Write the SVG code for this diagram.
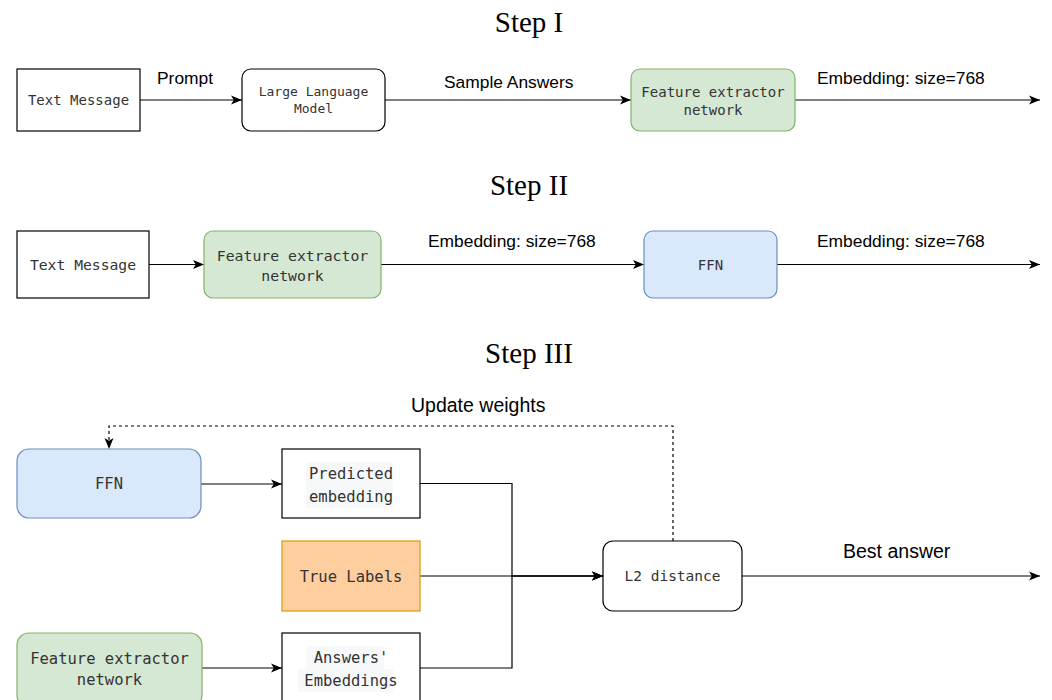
<svg xmlns="http://www.w3.org/2000/svg" width="1052" height="700" viewBox="0 0 1052 700">
<defs>
<marker id="arr" markerWidth="12" markerHeight="10" refX="11" refY="5" orient="auto" markerUnits="userSpaceOnUse">
<path d="M0,0.5 L11,5 L0,9.5 L2.8,5 z" fill="#000"/>
</marker>
<style>
.title{font-family:"Liberation Serif","Times New Roman",serif;font-size:29px;fill:#000;text-anchor:middle}
.lbl{font-family:"Liberation Sans",Arial,sans-serif;font-size:17.4px;fill:#000}
.lbl2{font-family:"Liberation Sans",Arial,sans-serif;font-size:19.5px;fill:#000}
.mono{font-family:"DejaVu Sans Mono","Liberation Mono",monospace;fill:#333;text-anchor:middle;dominant-baseline:central}
.plain{fill:#fff;stroke:#000;stroke-width:1.2}
.green{fill:#d5e8d4;stroke:#82b366;stroke-width:1.2}
.blue{fill:#dae8fc;stroke:#6c8ebf;stroke-width:1.2}
.orange{fill:#ffce9f;stroke:#d79b00;stroke-width:1.2}
.hl{fill:#f6f8fa}
.conn{fill:none;stroke:#000;stroke-width:1.2}
.dash{fill:none;stroke:#000;stroke-width:1.2;stroke-dasharray:3 3}
</style>
</defs>
<rect width="1052" height="700" fill="#fff"/>

<g id="titles">
<text class="title" x="529" y="32">Step I</text>
<text class="title" x="529" y="195">Step II</text>
<text class="title" x="529" y="363">Step III</text>
</g>

<g id="connectors">
<path class="conn" d="M140,100 H242" marker-end="url(#arr)"/>
<path class="conn" d="M385,100 H631" marker-end="url(#arr)"/>
<path class="conn" d="M795,100 H1040" marker-end="url(#arr)"/>
<path class="conn" d="M149,264.5 H204" marker-end="url(#arr)"/>
<path class="conn" d="M381,264.5 H644" marker-end="url(#arr)"/>
<path class="conn" d="M777,264.5 H1040" marker-end="url(#arr)"/>
<path class="conn" d="M201,484 H282" marker-end="url(#arr)"/>
<path class="conn" d="M202,668 H282" marker-end="url(#arr)"/>
<path class="conn" d="M420,483.5 H512 V576 H603" marker-end="url(#arr)"/>
<path class="conn" d="M420,668 H512 V576 H603" marker-end="url(#arr)"/>
<path class="conn" d="M420,576 H603" marker-end="url(#arr)"/>
<path class="conn" d="M742,576 H1040" marker-end="url(#arr)"/>
<path class="dash" d="M673,541 V426 H109 V449" marker-end="url(#arr)"/>
</g>

<g id="labels">
<text class="lbl" x="157" y="84">Prompt</text>
<text class="lbl" x="444" y="88">Sample Answers</text>
<text class="lbl" x="817" y="84">Embedding: size=768</text>
<text class="lbl" x="428" y="247">Embedding: size=768</text>
<text class="lbl" x="817" y="247">Embedding: size=768</text>
<text class="lbl2" x="411" y="412">Update weights</text>
<text class="lbl2" x="843" y="558">Best answer</text>
</g>

<g id="s1-text-message">
<rect class="plain" x="17" y="69" width="123" height="62"/>
<text class="mono" x="78.5" y="100" font-size="14">Text Message</text>
</g>
<g id="s1-llm">
<rect class="plain" x="242" y="69" width="143" height="62" rx="9"/>
<text class="mono" x="313.5" y="91.5" font-size="13">Large Language</text>
<text class="mono" x="313.5" y="108" font-size="13">Model</text>
</g>
<g id="s1-feature">
<rect class="green" x="631" y="69" width="164" height="62" rx="9"/>
<text class="mono" x="713" y="92" font-size="14">Feature extractor</text>
<text class="mono" x="713" y="109.5" font-size="14">network</text>
</g>

<g id="s2-text-message">
<rect class="plain" x="17" y="231" width="132" height="67"/>
<text class="mono" x="83" y="264.5" font-size="14.7">Text Message</text>
</g>
<g id="s2-feature">
<rect class="green" x="204" y="231" width="177" height="67" rx="9"/>
<text class="mono" x="292.5" y="255.5" font-size="14.8">Feature extractor</text>
<text class="mono" x="292.5" y="275.5" font-size="14.8">network</text>
</g>
<g id="s2-ffn">
<rect class="blue" x="644" y="231" width="133" height="67" rx="9"/>
<text class="mono" x="710.5" y="265" font-size="14">FFN</text>
</g>

<g id="s3-ffn">
<rect class="blue" x="17" y="449" width="184" height="69" rx="12"/>
<text class="mono" x="109" y="484" font-size="15.5">FFN</text>
</g>
<g id="s3-predicted">
<rect class="plain" x="282" y="449" width="138" height="69"/>
<rect class="hl" x="306" y="462" width="87" height="23"/>
<rect class="hl" x="306" y="485" width="87" height="23"/>
<text class="mono" x="351" y="474" font-size="15.5">Predicted</text>
<text class="mono" x="351" y="497" font-size="15.5">embedding</text>
</g>
<g id="s3-true-labels">
<rect class="orange" x="282" y="541" width="138" height="70"/>
<text class="mono" x="351" y="577" font-size="15.5">True Labels</text>
</g>
<g id="s3-l2">
<rect class="plain" x="603" y="541" width="139" height="70" rx="10"/>
<text class="mono" x="672.5" y="576" font-size="14.5">L2 distance</text>
</g>
<g id="s3-feature">
<rect class="green" x="17" y="633" width="185" height="74" rx="12"/>
<text class="mono" x="109.5" y="659" font-size="15.5">Feature extractor</text>
<text class="mono" x="109.5" y="679.5" font-size="15.5">network</text>
</g>
<g id="s3-answers">
<rect class="plain" x="282" y="633" width="138" height="74"/>
<rect class="hl" x="307" y="646" width="77" height="23"/>
<rect class="hl" x="298" y="669" width="95" height="23"/>
<text class="mono" x="351" y="657.5" font-size="15.5">Answers'</text>
<text class="mono" x="351" y="680.5" font-size="15.5">Embeddings</text>
</g>
</svg>
